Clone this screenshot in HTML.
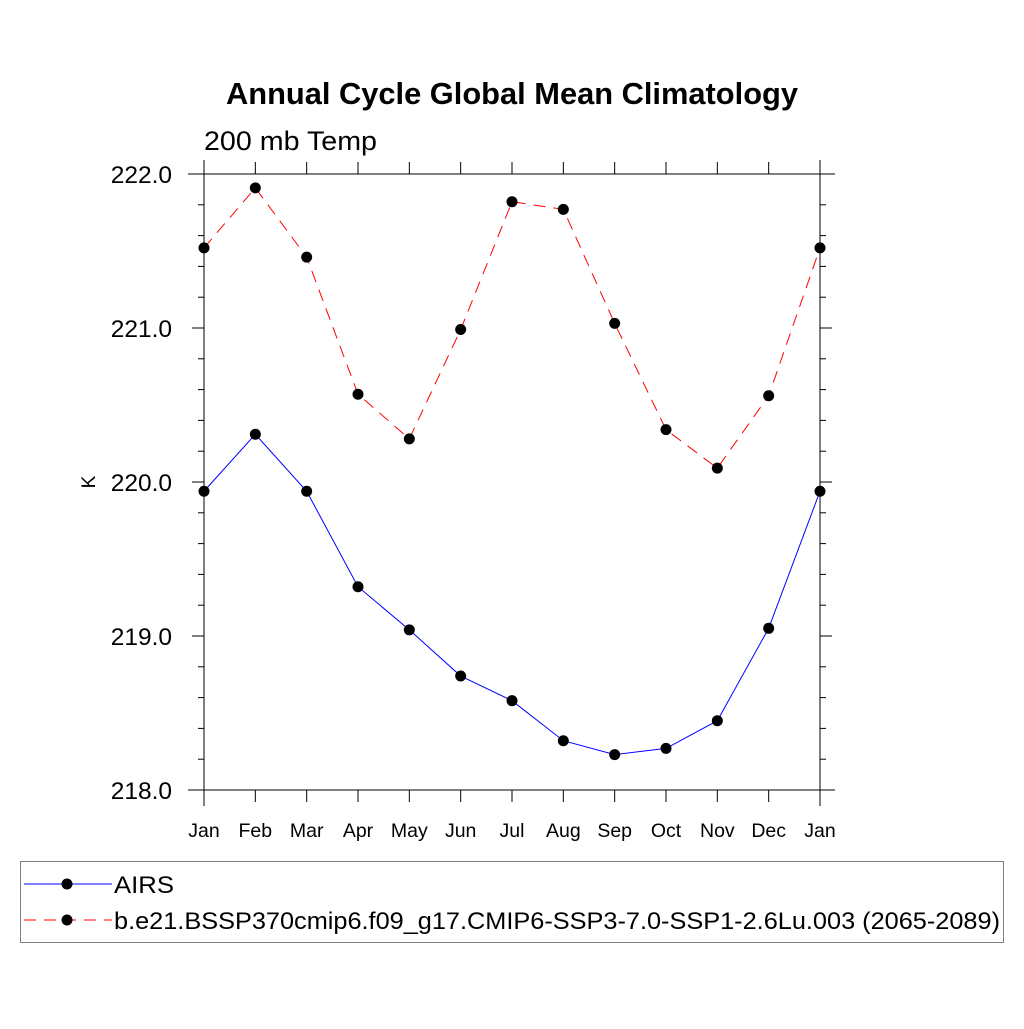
<!DOCTYPE html>
<html><head><meta charset="utf-8"><style>
html,body{margin:0;padding:0;background:#fff;}
svg text{font-family:"Liberation Sans",sans-serif;}
</style></head><body>
<svg id="chart" width="1024" height="1024" xmlns="http://www.w3.org/2000/svg">
<text x="226" y="104" font-size="30.5" font-weight="bold" textLength="572" lengthAdjust="spacingAndGlyphs">Annual Cycle Global Mean Climatology</text>
<text x="204" y="150" font-size="27" textLength="173" lengthAdjust="spacingAndGlyphs">200 mb Temp</text>
<text transform="translate(95,482) rotate(-90)" text-anchor="middle" font-size="19">K</text>
<g id="axes"></g>
<g id="series"></g>
<rect x="20.5" y="861.5" width="983" height="81" fill="none" stroke="#808080" stroke-width="1"/>
<g>
<line x1="24" y1="884" x2="112" y2="884" stroke="#0000ff" stroke-width="1"/>
<circle cx="67" cy="884" r="5.5" fill="#000"/>
<text x="114" y="893" font-size="24" textLength="60" lengthAdjust="spacingAndGlyphs">AIRS</text>
</g>
<g>
<line x1="24" y1="920" x2="112" y2="920" stroke="#ff0000" stroke-width="1" stroke-dasharray="12,8"/>
<circle cx="67" cy="920" r="5.5" fill="#000"/>
<text x="114" y="929" font-size="24" textLength="886" lengthAdjust="spacingAndGlyphs">b.e21.BSSP370cmip6.f09_g17.CMIP6-SSP3-7.0-SSP1-2.6Lu.003 (2065-2089)</text>
</g>
</svg>
<script>
const months = ["Jan","Feb","Mar","Apr","May","Jun","Jul","Aug","Sep","Oct","Nov","Dec","Jan"];
const airs = [219.94,220.31,219.94,219.32,219.04,218.74,218.58,218.32,218.23,218.27,218.45,219.05,219.94];
const model = [221.52,221.91,221.46,220.57,220.28,220.99,221.82,221.77,221.03,220.34,220.09,220.56,221.52];
const yTicks = [218,219,220,221,222];
const yTickLabels = ["218.0","219.0","220.0","221.0","222.0"];
const yMin = 218, yMax = 222;

const NS = "http://www.w3.org/2000/svg";
const X0 = 204, X1 = 820, Y0 = 790, Y1 = 174;
function xs(i){ return X0 + i*(X1-X0)/(months.length-1); }
function ys(v){ return Y0 - (v-yMin)*(Y0-Y1)/(yMax-yMin); }
function mk(tag, attrs, parent){
  const e = document.createElementNS(NS, tag);
  for (const k in attrs) e.setAttribute(k, attrs[k]);
  parent.appendChild(e); return e;
}
const axes = document.getElementById('axes');
const st = {stroke:"#000","stroke-width":1};
let l;
l = mk('line', Object.assign({x1:188,y1:Y1,x2:835,y2:Y1}, st), axes);


l = mk('line', Object.assign({x1:188,y1:Y0,x2:835,y2:Y0}, st), axes);


l = mk('line', Object.assign({x1:X0,y1:160,x2:X0,y2:806}, st), axes);


l = mk('line', Object.assign({x1:X1,y1:160,x2:X1,y2:806}, st), axes);


months.forEach((m,i)=>{
  const x = xs(i);
  let t = mk('line', Object.assign({x1:x,y1:Y0,x2:x,y2:Y0+12}, st), axes);
  
  
  t = mk('line', Object.assign({x1:x,y1:Y1,x2:x,y2:Y1-12}, st), axes);
  
  
  const tx = mk('text', {x:x, y:837, "text-anchor":"middle", "font-size":"19.5"}, axes);
  tx.textContent = m;
  
  
});
for (let v = yMin; v <= yMax + 1e-9; v += 0.2) {
  const y = ys(v);
  const major = Math.abs(v - Math.round(v)) < 1e-6;
  const len = major ? 12 : 6;
  let t = mk('line', Object.assign({x1:X0-len,y1:y,x2:X0,y2:y}, st), axes);
  
  
  t = mk('line', Object.assign({x1:X1,y1:y,x2:X1+len,y2:y}, st), axes);
  
  
}
yTicks.forEach((v,i)=>{
  const tx = mk('text', {x:172, y:ys(v)+9, "text-anchor":"end", "font-size":"24.5"}, axes);
  tx.textContent = yTickLabels[i];
  
  
});
const series = document.getElementById('series');
function drawSeries(vals, color, dash, name){
  const pts = vals.map((v,i)=>xs(i)+","+ys(v)).join(" ");
  const p = mk('polyline', {points:pts, fill:"none", stroke:color, "stroke-width":1}, series);
  if (dash) p.setAttribute('stroke-dasharray', dash);
  
  
  vals.forEach((v,i)=>{
    const c = mk('circle', {cx:xs(i), cy:ys(v), r:5.5, fill:"#000"}, series);
    
    
  });
}
drawSeries(model, "#ff0000", "12,8", "model");
drawSeries(airs, "#0000ff", null, "airs");
</script>
</body></html>
